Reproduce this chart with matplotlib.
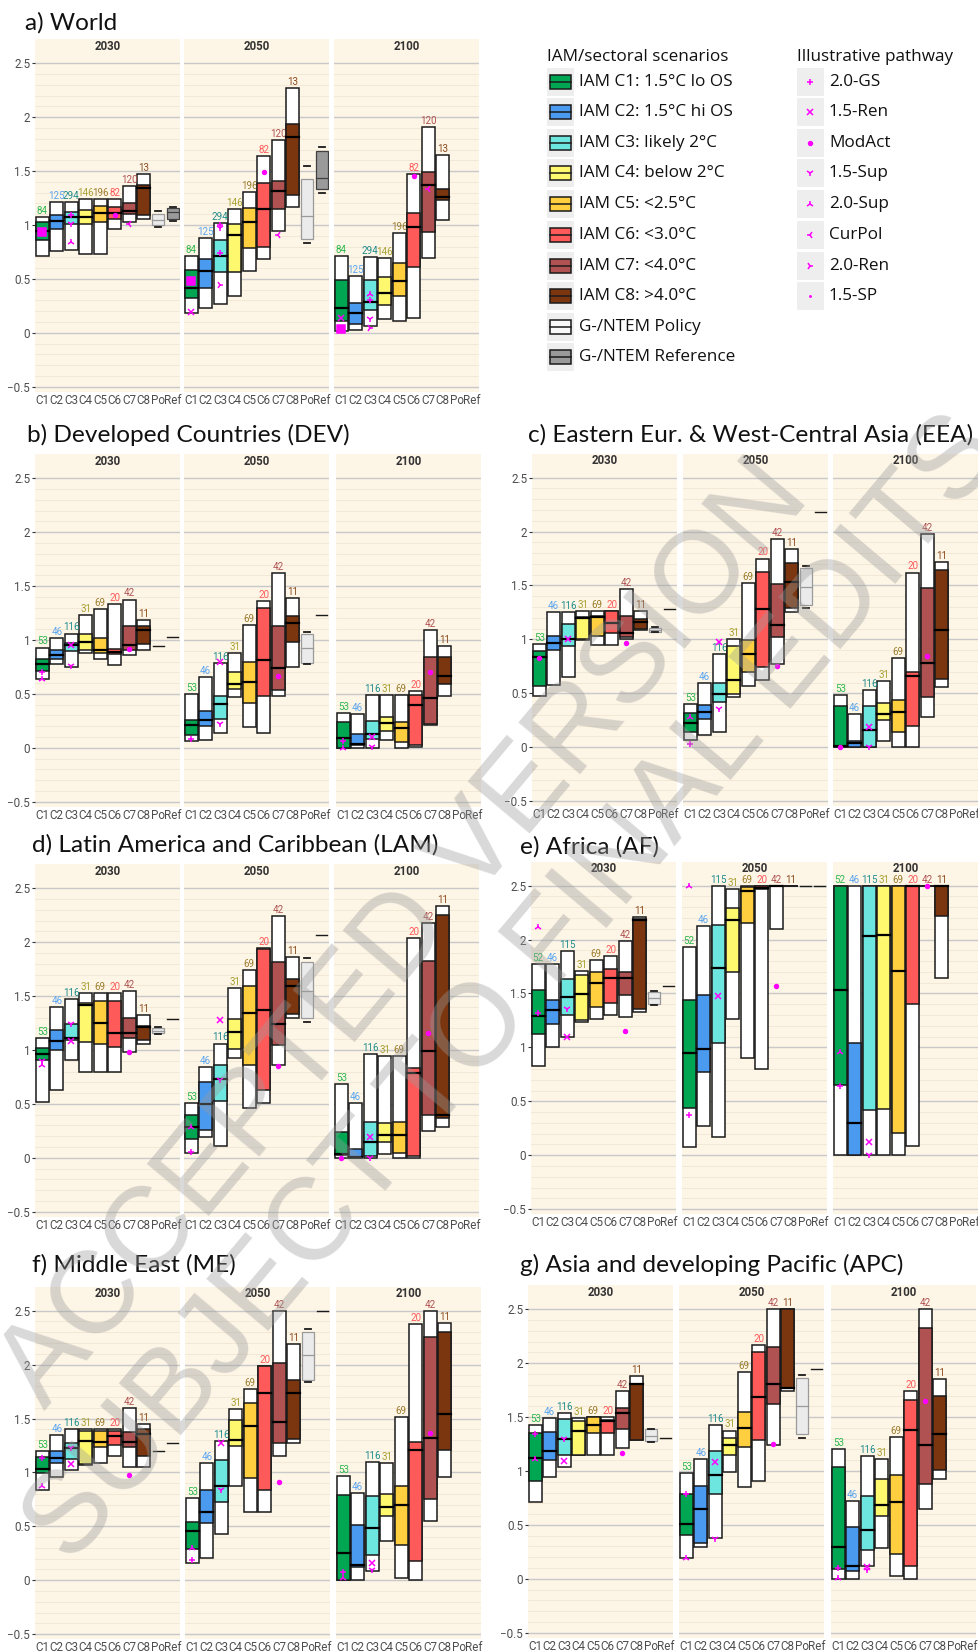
import matplotlib
matplotlib.use("Agg")
import matplotlib.pyplot as plt
from matplotlib.patches import Rectangle
import numpy as np

# ---------------------------------------------------------------------------
# DATA  (each box: p5, p25, median, p75, p95)
# ---------------------------------------------------------------------------
CATS = ["C1", "C2", "C3", "C4", "C5", "C6", "C7", "C8", "Po", "Ref"]
YEARS = ["2030", "2050", "2100"]
IAM_LABELS = ["IAM C1: 1.5°C lo OS", "IAM C2: 1.5°C hi OS", "IAM C3: likely 2°C",
              "IAM C4: below 2°C", "IAM C5: <2.5°C", "IAM C6: <3.0°C",
              "IAM C7: <4.0°C", "IAM C8: >4.0°C", "G-/NTEM Policy",
              "G-/NTEM Reference"]
PATHWAYS = ["2.0-GS", "1.5-Ren", "ModAct", "1.5-Sup", "2.0-Sup", "CurPol",
            "2.0-Ren", "1.5-SP"]

WORLD_N = [84, 125, 294, 146, 196, 82, 120, 13]
WORLD_2030 = [(0.71, 0.86, 0.945, 1.03, 1.07), (0.76, 0.96, 1.04, 1.09, 1.21),
              (0.765, 1.01, 1.07, 1.12, 1.21), (0.73, 1.01, 1.07, 1.14, 1.245),
              (0.73, 1.03, 1.115, 1.18, 1.245), (0.96, 1.06, 1.115, 1.17, 1.245),
              (1.03, 1.105, 1.13, 1.20, 1.36), (1.06, 1.09, 1.34, 1.375, 1.47)]
WORLD_2030_G = [(0.98, 1.0, 1.05, 1.1, 1.13), (1.04, 1.06, 1.12, 1.16, 1.17)]
WORLD_2050 = [(0.185, 0.32, 0.42, 0.585, 0.71), (0.23, 0.42, 0.575, 0.68, 0.875),
              (0.27, 0.565, 0.71, 0.865, 1.02), (0.34, 0.565, 0.905, 1.01, 1.145),
              (0.57, 0.79, 1.03, 1.16, 1.31), (0.68, 0.80, 1.145, 1.385, 1.64),
              (0.945, 1.145, 1.315, 1.405, 1.79), (1.17, 1.28, 1.82, 1.935, 2.27)]
WORLD_2050_G = [(0.83, 0.87, 1.08, 1.43, 1.55), (1.30, 1.33, 1.44, 1.69, 1.725)]
WORLD_2100 = [(0.015, 0.11, 0.23, 0.49, 0.71), (0.03, 0.08, 0.18, 0.275, 0.525),
              (0.06, 0.21, 0.29, 0.49, 0.70), (0.125, 0.255, 0.37, 0.52, 0.695),
              (0.11, 0.345, 0.48, 0.65, 0.925), (0.14, 0.615, 0.98, 1.11, 1.47),
              (0.69, 0.935, 1.375, 1.49, 1.905), (1.05, 1.23, 1.26, 1.33, 1.65)]
WORLD_2100_G = [None, None]
WORLD_MARKS = [(0, 0, "big", 0.935), (0, 2, "2.0-GS", 1.09), (0, 2, "1.5-Sup", 1.01),
               (0, 2, "2.0-Sup", 0.84), (0, 5, "ModAct", 1.09), (0, 6, "CurPol", 1.01),
               (1, 0, "1.5-Ren", 0.19), (1, 0, "big", 0.48), (1, 2, "2.0-GS", 1.0),
               (1, 2, "1.5-Sup", 0.97), (1, 2, "2.0-GS", 0.74), (1, 2, "2.0-Ren", 0.44),
               (1, 5, "ModAct", 1.49), (1, 6, "CurPol", 0.91),
               (2, 0, "1.5-Ren", 0.14), (2, 0, "big", 0.035), (2, 2, "2.0-Sup", 0.36),
               (2, 2, "2.0-GS", 0.30), (2, 2, "1.5-Sup", 0.13), (2, 2, "2.0-Ren", 0.04),
               (2, 5, "ModAct", 1.45), (2, 6, "CurPol", 1.33)]

DEV_N = [53, 46, 116, 31, 69, 20, 42, 11]
DEV_2030 = [(0.635, 0.715, 0.78, 0.82, 0.93), (0.775, 0.82, 0.86, 0.91, 1.02),
            (0.75, 0.90, 0.95, 0.975, 1.06), (0.875, 0.91, 0.985, 1.055, 1.23),
            (0.82, 0.88, 0.91, 1.015, 1.285), (0.77, 0.87, 0.89, 0.92, 1.33),
            (0.86, 0.91, 0.95, 1.13, 1.375), (0.91, 0.96, 1.09, 1.13, 1.185)]
DEV_2030_G = [(0.945,) * 5, (1.03,) * 5]
DEV_2050 = [(0.06, 0.12, 0.21, 0.255, 0.50), (0.075, 0.20, 0.255, 0.34, 0.66),
            (0.14, 0.27, 0.405, 0.48, 0.79), (0.475, 0.55, 0.59, 0.705, 0.875),
            (0.19, 0.42, 0.61, 0.80, 1.14), (0.14, 0.48, 0.81, 1.295, 1.365),
            (0.48, 0.54, 0.74, 1.13, 1.62), (0.745, 0.98, 1.155, 1.225, 1.385)]
DEV_2050_G = [(0.78, 0.79, 0.93, 1.06, 1.075), (1.23,) * 5]
DEV_2100 = [(0.0, 0.0, 0.095, 0.24, 0.325), (0.0, 0.03, 0.035, 0.125, 0.31),
            (0.0, 0.085, 0.13, 0.25, 0.49), (0.07, 0.155, 0.23, 0.29, 0.49),
            (0.0, 0.05, 0.18, 0.24, 0.49), (0.01, 0.03, 0.395, 0.49, 0.53),
            (0.215, 0.225, 0.465, 0.845, 1.09), (0.48, 0.59, 0.67, 0.84, 0.945)]
DEV_2100_G = [None, None]
DEV_MARKS = [(0, 0, "2.0-GS", 0.70), (0, 0, "2.0-Sup", 0.64), (0, 2, "1.5-Ren", 0.95),
             (0, 2, "1.5-Sup", 0.76), (0, 6, "ModAct", 0.92),
             (1, 0, "2.0-GS", 0.08), (1, 2, "1.5-Ren", 0.80), (1, 2, "1.5-Sup", 0.22),
             (1, 6, "ModAct", 0.67),
             (2, 0, "2.0-GS", 0.06), (2, 0, "2.0-Sup", 0.0), (2, 2, "1.5-Ren", 0.10),
             (2, 2, "1.5-Sup", 0.01), (2, 6, "ModAct", 0.70)]

EEA_N = [53, 46, 116, 31, 69, 20, 42, 11]
EEA_2030 = [(0.475, 0.565, 0.84, 0.89, 0.96), (0.575, 0.905, 0.965, 1.03, 1.25),
            (0.65, 0.94, 1.005, 1.145, 1.255), (0.99, 1.005, 1.20, 1.21, 1.26),
            (0.95, 1.035, 1.21, 1.22, 1.26), (0.945, 1.06, 1.155, 1.26, 1.26),
            (1.0, 1.02, 1.06, 1.22, 1.47), (1.09, 1.10, 1.16, 1.19, 1.26)]
EEA_2030_G = [(1.065, 1.07, 1.09, 1.11, 1.115), (1.28,) * 5]
EEA_2050 = [(0.07, 0.145, 0.225, 0.315, 0.40), (0.115, 0.265, 0.33, 0.39, 0.595),
            (0.14, 0.42, 0.49, 0.595, 0.86), (0.465, 0.495, 0.625, 0.935, 1.005),
            (0.57, 0.695, 0.86, 0.99, 1.525), (0.62, 0.745, 1.285, 1.625, 1.75),
            (0.775, 1.02, 1.13, 1.51, 1.93), (1.25, 1.29, 1.53, 1.71, 1.835)]
EEA_2050_G = [(1.295, 1.315, 1.485, 1.66, 1.68), (2.18,) * 5]
EEA_2100 = [(0.0, 0.005, 0.015, 0.385, 0.48), (0.0, 0.0, 0.04, 0.06, 0.31),
            (0.0, 0.005, 0.16, 0.38, 0.53), (0.055, 0.25, 0.305, 0.41, 0.615),
            (0.0, 0.14, 0.325, 0.435, 0.83), (0.0, 0.20, 0.66, 0.70, 1.62),
            (0.28, 0.47, 0.785, 1.475, 1.975), (0.555, 0.635, 1.09, 1.64, 1.72)]
EEA_2100_G = [None, None]
EEA_MARKS = [(0, 0, "ModAct", 0.83), (0, 2, "1.5-Ren", 1.0), (0, 6, "ModAct", 0.97),
             (1, 0, "2.0-Sup", 0.28), (1, 0, "2.0-GS", 0.03), (1, 2, "1.5-Ren", 0.98),
             (1, 2, "1.5-Sup", 0.35), (1, 6, "ModAct", 0.75),
             (2, 0, "ModAct", 0.0), (2, 2, "1.5-Ren", 0.19), (2, 2, "1.5-Sup", 0.0),
             (2, 6, "ModAct", 0.85)]

LAM_N = [53, 46, 116, 31, 69, 20, 42, 11]
LAM_2030 = [(0.52, 0.905, 0.96, 1.02, 1.115), (0.625, 1.0, 1.08, 1.19, 1.395),
            (0.905, 1.09, 1.11, 1.24, 1.47), (0.795, 1.075, 1.42, 1.44, 1.53),
            (0.795, 1.06, 1.255, 1.45, 1.53), (0.795, 1.03, 1.16, 1.45, 1.53),
            (0.985, 1.115, 1.155, 1.295, 1.545), (1.055, 1.09, 1.21, 1.22, 1.325)]
LAM_2030_G = [(1.15, 1.16, 1.18, 1.2, 1.21), (1.29,) * 5]
LAM_2050 = [(0.045, 0.17, 0.285, 0.395, 0.51), (0.19, 0.26, 0.50, 0.70, 0.845),
            (0.105, 0.53, 0.73, 0.86, 1.06), (0.925, 1.005, 1.17, 1.285, 1.575),
            (0.465, 0.86, 1.34, 1.59, 1.745), (0.505, 0.625, 1.37, 1.94, 1.945),
            (0.86, 1.045, 1.24, 1.815, 2.24), (1.30, 1.335, 1.59, 1.66, 1.86)]
LAM_2050_G = [(1.26, 1.30, 1.55, 1.815, 1.855), (2.065,) * 5]
LAM_2100 = [(0.0, 0.03, 0.035, 0.235, 0.68), (0.0, 0.0, 0.005, 0.08, 0.51),
            (0.0, 0.02, 0.15, 0.33, 0.96), (0.035, 0.145, 0.215, 0.325, 0.945),
            (0.0, 0.045, 0.21, 0.33, 0.945), (0.0, 0.02, 0.79, 0.83, 2.035),
            (0.245, 0.395, 0.99, 1.825, 2.18), (0.285, 0.37, 0.40, 2.255, 2.335)]
LAM_2100_G = [None, None]
LAM_MARKS = [(0, 0, "2.0-Sup", 0.86), (0, 0, "1.5-Sup", 0.90), (0, 2, "1.5-Sup", 1.24),
             (0, 2, "1.5-Ren", 1.08), (0, 6, "ModAct", 0.98),
             (1, 0, "2.0-Sup", 0.29), (1, 0, "2.0-GS", 0.05), (1, 2, "1.5-Ren", 1.28),
             (1, 2, "1.5-Sup", 0.72), (1, 6, "ModAct", 0.85),
             (2, 0, "ModAct", 0.0), (2, 2, "1.5-Ren", 0.19), (2, 2, "1.5-Sup", 0.0),
             (2, 6, "ModAct", 1.16)]

AF_N = [52, 46, 115, 31, 69, 20, 42, 11]
AF_2030 = [(0.83, 1.12, 1.29, 1.535, 1.77), (1.0, 1.215, 1.345, 1.44, 1.77),
           (1.10, 1.305, 1.465, 1.63, 1.89), (1.235, 1.25, 1.495, 1.67, 1.705),
           (1.26, 1.375, 1.60, 1.695, 1.81), (1.30, 1.415, 1.64, 1.73, 1.845),
           (1.285, 1.485, 1.64, 1.70, 1.985), (1.325, 1.36, 2.18, 2.19, 2.21)]
AF_2030_G = [(1.39, 1.40, 1.455, 1.515, 1.52), (1.57,) * 5]
AF_2050 = [(0.08, 0.44, 0.95, 1.44, 1.935), (0.27, 0.775, 0.985, 1.49, 2.125),
           (0.165, 1.04, 1.74, 2.135, 2.5), (1.26, 1.695, 2.185, 2.29, 2.465),
           (0.905, 2.155, 2.45, 2.485, 2.5), (0.80, 2.465, 2.475, 2.5, 2.5),
           (2.10, 2.5, 2.5, 2.5, 2.5), (2.5, 2.5, 2.5, 2.5, 2.5)]
AF_2050_G = [(2.5,) * 5, (2.5,) * 5]
AF_2100 = [(0.0, 0.65, 1.53, 2.5, 2.5), (0.0, 0.0, 0.295, 1.04, 2.5),
           (0.0, 0.42, 2.035, 2.5, 2.5), (0.0, 0.425, 2.04, 2.5, 2.5),
           (0.0, 0.205, 1.705, 2.5, 2.5), (0.085, 1.40, 2.5, 2.5, 2.5),
           (2.5, 2.5, 2.5, 2.5, 2.5), (1.64, 2.22, 2.5, 2.5, 2.5)]
AF_2100_G = [None, None]
AF_MARKS = [(0, 0, "2.0-Sup", 2.12), (0, 0, "2.0-GS", 1.32), (0, 2, "1.5-Sup", 1.36),
            (0, 2, "1.5-Ren", 1.10), (0, 6, "ModAct", 1.15),
            (1, 0, "2.0-Sup", 2.5), (1, 0, "2.0-GS", 0.37), (1, 2, "1.5-Ren", 1.48),
            (1, 6, "ModAct", 1.57),
            (2, 0, "2.0-Sup", 0.96), (2, 0, "2.0-GS", 0.64), (2, 2, "1.5-Ren", 0.12),
            (2, 2, "1.5-Sup", 0.0), (2, 6, "ModAct", 2.5)]

ME_N = [53, 46, 116, 31, 69, 20, 42, 11]
ME_2030 = [(0.84, 0.995, 1.035, 1.14, 1.195), (0.955, 1.09, 1.135, 1.195, 1.35),
           (1.02, 1.125, 1.225, 1.275, 1.405), (1.065, 1.075, 1.29, 1.38, 1.405),
           (1.09, 1.235, 1.285, 1.38, 1.405), (1.155, 1.25, 1.335, 1.38, 1.405),
           (1.05, 1.24, 1.285, 1.375, 1.60), (1.05, 1.15, 1.355, 1.40, 1.445)]
ME_2030_G = [(1.195,) * 5, (1.27,) * 5]
ME_2050 = [(0.155, 0.285, 0.46, 0.54, 0.765), (0.21, 0.535, 0.63, 0.84, 1.09),
           (0.425, 0.725, 0.875, 1.115, 1.29), (0.875, 1.245, 1.305, 1.49, 1.59),
           (0.635, 0.945, 1.435, 1.645, 1.775), (0.635, 0.835, 1.735, 1.985, 1.99),
           (1.15, 1.275, 1.465, 2.015, 2.5), (1.275, 1.31, 1.735, 1.86, 2.19)]
ME_2050_G = [(1.84, 1.86, 2.085, 2.30, 2.33), (2.5,) * 5]
ME_2100 = [(0.0, 0.0, 0.255, 0.79, 0.965), (0.0, 0.125, 0.14, 0.51, 0.805),
           (0.085, 0.235, 0.48, 0.78, 1.10), (0.365, 0.60, 0.68, 0.795, 1.09),
           (0.02, 0.325, 0.695, 0.875, 1.51), (0.0, 0.175, 1.21, 1.285, 2.375),
           (0.55, 0.75, 1.32, 2.255, 2.5), (0.96, 1.205, 1.545, 2.305, 2.385)]
ME_2100_G = [None, None]
ME_MARKS = [(0, 0, "2.0-GS", 1.13), (0, 0, "2.0-Sup", 0.87), (0, 2, "1.5-Sup", 1.23),
            (0, 2, "1.5-Ren", 1.08), (0, 6, "ModAct", 0.98),
            (1, 0, "2.0-Sup", 0.30), (1, 0, "2.0-GS", 0.19), (1, 2, "1.5-Ren", 1.27),
            (1, 2, "1.5-Sup", 0.84), (1, 6, "ModAct", 0.91),
            (2, 0, "2.0-GS", 0.08), (2, 0, "2.0-Sup", 0.02), (2, 2, "1.5-Ren", 0.16),
            (2, 2, "1.5-Sup", 0.09), (2, 6, "ModAct", 1.37)]

APC_N = [53, 46, 116, 31, 69, 20, 42, 11]
APC_2030 = [(0.71, 0.91, 1.12, 1.355, 1.43), (0.94, 1.10, 1.19, 1.36, 1.495),
            (1.04, 1.15, 1.295, 1.485, 1.535), (1.15, 1.15, 1.37, 1.46, 1.495),
            (1.15, 1.355, 1.425, 1.50, 1.50), (1.15, 1.355, 1.46, 1.47, 1.50),
            (1.21, 1.39, 1.535, 1.58, 1.74), (1.29, 1.29, 1.805, 1.81, 1.88)]
APC_2030_G = [(1.27, 1.28, 1.325, 1.385, 1.39), (1.305,) * 5]
APC_2050 = [(0.19, 0.405, 0.51, 0.785, 0.985), (0.295, 0.335, 0.65, 0.865, 1.11),
            (0.38, 0.785, 0.96, 1.185, 1.43), (0.99, 1.15, 1.24, 1.31, 1.375),
            (0.85, 1.225, 1.395, 1.545, 1.92), (0.91, 1.29, 1.685, 2.105, 2.165),
            (1.245, 1.62, 1.805, 2.15, 2.5), (1.745, 1.77, 1.77, 2.5, 2.5)]
APC_2050_G = [(1.31, 1.345, 1.605, 1.86, 1.89), (1.945,) * 5]
APC_2100 = [(0.0, 0.09, 0.295, 1.04, 1.20), (0.0, 0.07, 0.115, 0.48, 0.72),
            (0.115, 0.27, 0.45, 0.765, 1.135), (0.285, 0.58, 0.68, 0.925, 1.115),
            (0.03, 0.23, 0.71, 0.965, 1.315), (0.0, 0.115, 1.38, 1.66, 1.745),
            (0.645, 0.88, 1.24, 2.325, 2.5), (0.93, 1.01, 1.345, 1.695, 1.85)]
APC_2100_G = [None, None]
APC_MARKS = [(0, 0, "2.0-GS", 1.34), (0, 0, "2.0-Sup", 1.11), (0, 2, "1.5-Sup", 1.30),
             (0, 2, "1.5-Ren", 1.09), (0, 6, "ModAct", 1.17),
             (1, 0, "2.0-GS", 0.79), (1, 0, "2.0-Sup", 0.19), (1, 2, "1.5-Ren", 1.08),
             (1, 2, "1.5-Sup", 0.37), (1, 6, "ModAct", 1.25),
             (2, 0, "2.0-GS", 0.10), (2, 0, "2.0-Sup", 0.01), (2, 2, "1.5-Ren", 0.11),
             (2, 2, "1.5-Sup", 0.08), (2, 6, "ModAct", 1.65)]

REGIONS = [
    ("a) World", WORLD_N, [WORLD_2030, WORLD_2050, WORLD_2100],
     [WORLD_2030_G, WORLD_2050_G, WORLD_2100_G], WORLD_MARKS),
    ("b) Developed Countries (DEV)", DEV_N, [DEV_2030, DEV_2050, DEV_2100],
     [DEV_2030_G, DEV_2050_G, DEV_2100_G], DEV_MARKS),
    ("c) Eastern Eur. & West-Central Asia (EEA)", EEA_N, [EEA_2030, EEA_2050, EEA_2100],
     [EEA_2030_G, EEA_2050_G, EEA_2100_G], EEA_MARKS),
    ("d) Latin America and Caribbean (LAM)", LAM_N, [LAM_2030, LAM_2050, LAM_2100],
     [LAM_2030_G, LAM_2050_G, LAM_2100_G], LAM_MARKS),
    ("e) Africa (AF)", AF_N, [AF_2030, AF_2050, AF_2100],
     [AF_2030_G, AF_2050_G, AF_2100_G], AF_MARKS),
    ("f) Middle East (ME)", ME_N, [ME_2030, ME_2050, ME_2100],
     [ME_2030_G, ME_2050_G, ME_2100_G], ME_MARKS),
    ("g) Asia and developing Pacific (APC)", APC_N, [APC_2030, APC_2050, APC_2100],
     [APC_2030_G, APC_2050_G, APC_2100_G], APC_MARKS),
]

# ---------------------------------------------------------------------------
# STYLE / LAYOUT  (pixel positions in the 979x1651 canvas)
# ---------------------------------------------------------------------------
W, H, DPI = 979, 1651, 100
UNIT = 107.8          # px per 1.0 on the y axis
SUB_W = 145
STRIP = 24            # px between top of panel and the 2.5 gridline
# title x, title y, sub-panel lefts, y pixel of the 2.5 line
LAYOUT = [(25, 23, [35, 184, 334], 63.3),
          (27, 435, [35, 184, 336], 478.3),
          (528, 435, [532, 683, 833], 477.7),
          (32, 845, [35, 184, 334], 888.3),
          (520, 847, [531, 682, 833], 885.7),
          (32, 1265, [35, 185, 336], 1310.7),
          (520, 1265, [528, 679, 831], 1309.3)]

FILL = ["#00a651", "#4a9af0", "#6ee6e0", "#fdf86e", "#ffcf40", "#ff5a5a",
        "#b05252", "#7b360f"]
NCOL = ["#2eb84e", "#5aa5f0", "#1f8c8c", "#a8a030", "#9c7c2c", "#ff5a5a",
        "#b05252", "#8b4a1c"]
PO_FC, PO_EC = "#ebebeb", "#9a9a9a"
REF_FC, REF_EC = "#9a9a9a", "#404040"
BG = "#fdf5e6"
MAG = "#ff00ff"
MSTYLE = {"2.0-GS": ("+", 5), "1.5-Ren": ("x", 5), "ModAct": ("o", 2.8),
          "1.5-Sup": ("1", 5), "2.0-Sup": ("2", 5), "CurPol": ("3", 5),
          "2.0-Ren": ("4", 5), "1.5-SP": (".", 2), "big": ("s", 5.5)}
EDGE = "#1a1a1a"
TICK_FONT = ["Roboto", "DejaVu Sans"]
TITLE_FONT = ["Lato", "DejaVu Sans"]
LEG_FONT = ["Open Sans", "DejaVu Sans"]
TICK_SIZE = 8.4
LEG_SIZE = 12.3

ymax = 2.5 + STRIP / UNIT
ymin = -0.5 - 5 / UNIT


def draw_box(ax, x, vals, fill):
    lo, q1, md, q3, hi = vals
    if hi - lo < 1e-6:
        ax.plot([x - 0.45, x + 0.45], [md, md], color=EDGE, lw=1.4, zorder=4)
        return
    ax.add_patch(Rectangle((x - 0.45, lo), 0.9, hi - lo, fc="white", ec=EDGE,
                           lw=1.1, zorder=2))
    ax.add_patch(Rectangle((x - 0.45, q1), 0.9, q3 - q1, fc=fill, ec=EDGE,
                           lw=1.1, zorder=3))
    ax.plot([x - 0.45, x + 0.45], [md, md], color="black", lw=1.6, zorder=4)


def draw_gbox(ax, x, vals, fc, ec):
    if vals is None:
        return
    lo, q1, md, q3, hi = vals
    if hi - lo < 1e-6:
        ax.plot([x - 0.38, x + 0.38], [md, md], color=EDGE, lw=1.0, zorder=4)
        return
    ax.add_patch(Rectangle((x - 0.4, q1), 0.8, q3 - q1, fc=fc, ec=ec, lw=0.9,
                           zorder=3))
    ax.plot([x - 0.4, x + 0.4], [md, md], color=ec, lw=0.9, zorder=4)
    for v in (lo, hi):
        ax.plot([x - 0.22, x + 0.22], [v, v], color=EDGE, lw=1.3, zorder=4)


def setup_axes(ax, first, year):
    ax.set_facecolor(BG)
    for s in ax.spines.values():
        s.set_visible(False)
    ax.set_xlim(-0.5, 9.5)
    ax.set_ylim(ymin, ymax)
    for v in np.arange(-0.5, 2.501, 0.1):
        major = abs(v * 2 - round(v * 2)) < 1e-6
        ax.axhline(v, color="#c9c9c9" if major else "#f1e6d2",
                   lw=1.0 if major else 0.6, zorder=0.5)
    ax.set_xticks(range(len(CATS)))
    ax.set_xticklabels(CATS, fontsize=TICK_SIZE, color="#4d4d4d", family=TICK_FONT)
    ax.tick_params(axis="x", length=0, pad=1.5)
    if first:
        ax.set_yticks([-0.5, 0, 0.5, 1, 1.5, 2, 2.5])
        ax.set_yticklabels(["\u22120.5", "0", "0.5", "1", "1.5", "2", "2.5"],
                           fontsize=TICK_SIZE, color="#4d4d4d", family=TICK_FONT)
        ax.tick_params(axis="y", length=2.5, width=0.8, color="#333333", pad=1)
    else:
        ax.set_yticks([])
    ax.text(4.5, 2.5 + 17 / UNIT, year, ha="center", va="center", fontsize=8.3,
            fontweight="bold", color="#333333", family=TICK_FONT)


fig = plt.figure(figsize=(W / DPI, H / DPI), dpi=DPI)

for (title, counts, years, gboxes, marks), (tx, ty, lefts, y25) in zip(REGIONS, LAYOUT):
    top = y25 - STRIP
    bot = y25 + 3 * UNIT + 5
    axes = []
    for k, left in enumerate(lefts):
        ax = fig.add_axes([left / W, 1 - bot / H, SUB_W / W, (bot - top) / H])
        setup_axes(ax, k == 0, YEARS[k])
        for i, vals in enumerate(years[k]):
            draw_box(ax, i, vals, FILL[i])
            ax.text(i, vals[4] + 0.01, str(counts[i]), color=NCOL[i], ha="center",
                    va="bottom", fontsize=7.0, family=TICK_FONT)
        draw_gbox(ax, 8, gboxes[k][0], PO_FC, PO_EC)
        draw_gbox(ax, 9, gboxes[k][1], REF_FC, REF_EC)
        axes.append(ax)
    for yi, ci, name, v in marks:
        m, ms = MSTYLE[name]
        axes[yi].plot(ci, v, marker=m, ms=ms, color=MAG, mew=1.1, ls="none",
                      zorder=6, clip_on=False)

# overlay in pixel coordinates: titles, legend, watermark
ov = fig.add_axes([0, 0, 1, 1])
ov.set_xlim(0, W)
ov.set_ylim(H, 0)
ov.axis("off")

for (title, *_), (tx, ty, lefts, y25) in zip(REGIONS, LAYOUT):
    ov.text(tx, ty, title, ha="left", va="center", fontsize=17.6,
            color="#111111", family=TITLE_FONT)

# legend
ROW_Y = [82, 112, 143, 173, 204, 235, 266, 296, 327, 357]
ov.text(547, 57, "IAM/sectoral scenarios", ha="left", va="center",
        fontsize=LEG_SIZE, color="#111111", family=LEG_FONT)
ov.text(797, 57, "Illustrative pathway", ha="left", va="center",
        fontsize=LEG_SIZE, color="#111111", family=LEG_FONT)
key_fill = FILL + ["#f8f8f8", "#999999"]
for i, lab in enumerate(IAM_LABELS):
    y = ROW_Y[i]
    ov.add_patch(Rectangle((547, y - 14), 27, 28, fc="#eeeeee", ec="none"))
    ov.add_patch(Rectangle((550, y - 7), 21, 14, fc=key_fill[i], ec=EDGE, lw=1.1))
    ov.plot([550, 571], [y, y], color=EDGE, lw=1.1)
    ov.text(579, y, lab, ha="left", va="center", fontsize=LEG_SIZE,
            color="#111111", family=LEG_FONT)
for i, lab in enumerate(PATHWAYS):
    y = ROW_Y[i]
    ov.add_patch(Rectangle((797, y - 14), 27, 28, fc="#eeeeee", ec="none"))
    m, ms = MSTYLE[lab]
    ov.plot(810.5, y, marker=m, ms=ms, color=MAG, mew=1.1, ls="none")
    ov.text(829, y, lab, ha="left", va="center", fontsize=LEG_SIZE,
            color="#111111", family=LEG_FONT)

# watermark
wm = dict(ha="center", va="center", fontsize=84, color="#9a9a9a", alpha=0.38,
          family=["Liberation Sans", "DejaVu Sans"], rotation=50,
          rotation_mode="anchor", zorder=20)
ov.text(405, 935, "ACCEPTED VERSION", **wm)
ov.text(515, 990, "SUBJECT TO FINAL EDITS", **wm)

fig.savefig("out.png", dpi=DPI)
